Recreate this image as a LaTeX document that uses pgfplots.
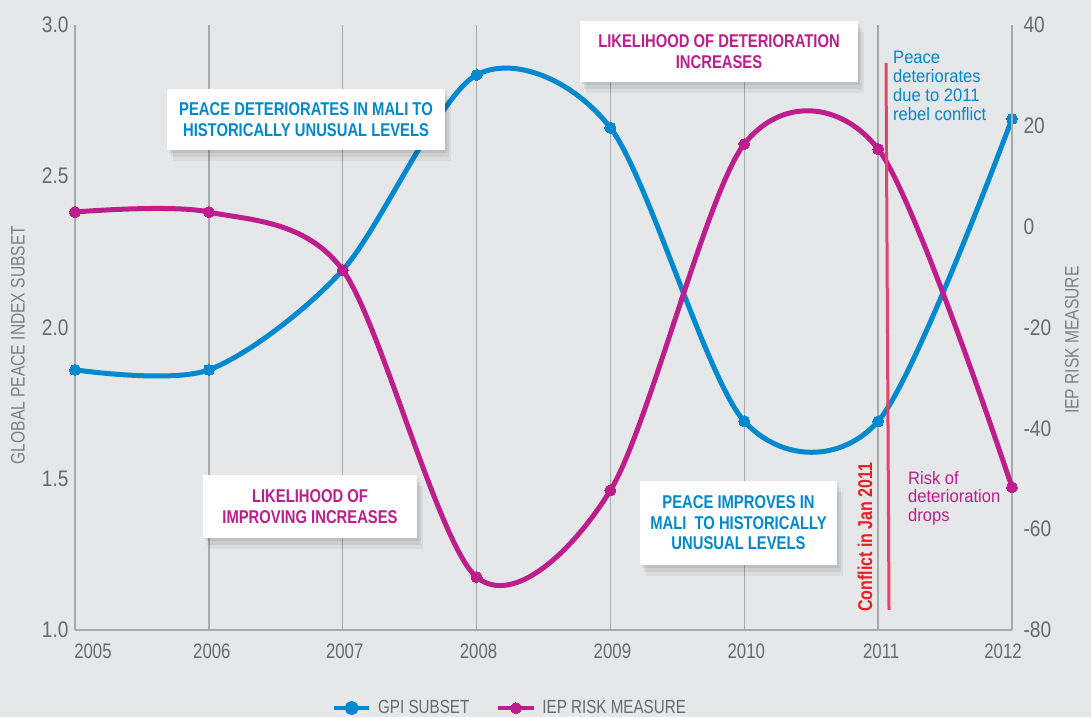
\documentclass[border=0pt]{standalone}
\usepackage{pgfplots}
\pgfplotsset{compat=1.18}
\usepackage{fontspec}
\setmainfont{Liberation Sans}[FakeStretch=0.8]
\newfontfamily\narrowfont{Liberation Sans}[FakeStretch=0.92]
\newfontfamily\tickfont{Liberation Sans}[FakeStretch=0.85]
\usetikzlibrary{shadows}
\definecolor{bgc}{RGB}{230,231,232}
\definecolor{gpiblue}{RGB}{0,137,207}
\definecolor{iepmag}{RGB}{190,30,140}
\definecolor{tickc}{RGB}{105,106,109}
\definecolor{labc}{RGB}{125,127,130}
\definecolor{gridc}{RGB}{167,169,172}
\definecolor{redtxt}{RGB}{237,28,36}
\definecolor{redline}{RGB}{226,68,106}
\tikzset{
  softshadow/.style={
    drop shadow={shadow xshift=2pt, shadow yshift=-3pt, opacity=0.07, fill=black},
    drop shadow={shadow xshift=4pt, shadow yshift=-7pt, opacity=0.06, fill=black},
    drop shadow={shadow xshift=6pt, shadow yshift=-11pt, opacity=0.05, fill=black}},
  box/.style={fill=white, inner sep=0pt, align=center, font=\bfseries\fontsize{18.5}{20.5}\selectfont, softshadow}
}
\pgfplotsset{
  common/.style={
    at={(75pt,87pt)}, anchor=south west, scale only axis,
    width=937pt, height=605pt, clip=false,
    xmin=2005, xmax=2012,
    major tick length=0pt,
    axis line style={draw=gridc, line width=1.3pt},
    /pgf/number format/assume math mode=true,
    /pgf/number format/1000 sep={},
    tick label style={text=tickc},
  },
  legend image code/.code={\draw[#1, mark repeat=2, mark phase=2, line width=4pt] plot coordinates {(0pt,0pt) (17.5pt,0pt) (35pt,0pt)};},
}
\begin{document}
\begin{tikzpicture}[x=1pt,y=1pt]
\fill[bgc] (0,0) rectangle (1091,717);
\useasboundingbox (0,0) rectangle (1091,717);
\begin{axis}[common,
  ymin=1, ymax=3,
  axis x line*=bottom, axis y line*=left,
  xtick={2005,2006,2007,2008,2009,2010,2011,2012},
  xticklabels={\hspace*{36pt}2005,\hspace*{6pt}2006,\hspace*{4pt}2007,\hspace*{4pt}2008,\hspace*{4pt}2009,\hspace*{4pt}2010,\hspace*{6pt}2011,2012\hspace*{18pt}},
  ytick={1,1.5,2,2.5,3},
  yticklabel style={/pgf/number format/fixed, /pgf/number format/fixed zerofill, /pgf/number format/precision=1, font=\tickfont\fontsize{22.5}{22.5}\selectfont, xshift=-3pt},
  xticklabel style={font=\fontsize{21}{21}\selectfont, yshift=-10pt},
  xmajorgrids, grid style={draw=gridc, line width=1.3pt},
  ylabel={GLOBAL PEACE INDEX SUBSET},
  every axis y label/.style={at={(axis description cs:-0.061,0.471)}, rotate=90, anchor=center, font=\fontsize{19.5}{19.5}\selectfont, text=labc},
]
\addplot[gpiblue, line width=5pt, smooth, tension=0.5, mark=*, mark size=5.5pt, mark options={solid, fill=gpiblue, draw=gpiblue, line width=0pt}]
 coordinates {(2005,1.86) (2006,1.86) (2007,2.19) (2008,2.835) (2009,2.66) (2010,1.69) (2011,1.69) (2012,2.69)};
\end{axis}
\begin{axis}[common,
  ymin=-80, ymax=40,
  axis y line*=right, axis x line=none,
  ytick={-80,-60,-40,-20,0,20,40},
  yticklabel style={font=\tickfont\fontsize{22.5}{22.5}\selectfont, xshift=8pt},
  ylabel={IEP RISK MEASURE},
  every axis y label/.style={at={(axis description cs:1.064,0.479)}, rotate=90, anchor=center, font=\fontsize{19.5}{19.5}\selectfont, text=labc},
  legend style={at={(axis description cs:0.467,-0.129)}, anchor=center, draw=none, fill=none, legend columns=2, font=\fontsize{19}{19}\selectfont, text=tickc, /tikz/every even column/.append style={column sep=20pt}, nodes={inner xsep=7pt}},
]
\addlegendimage{gpiblue, mark=*, mark size=5pt, mark options={solid, fill=gpiblue, draw=gpiblue}}
\addlegendentry{GPI SUBSET}
\addplot[iepmag, line width=5pt, smooth, tension=0.5, mark=*, mark size=5.5pt, mark options={solid, fill=iepmag, draw=iepmag, line width=0pt}]
 coordinates {(2005,2.9) (2006,2.9) (2007,-8.6) (2008,-69.5) (2009,-52.3) (2010,16.4) (2011,15.4) (2012,-51.7)};
\addlegendentry{IEP RISK MEASURE}
\end{axis}
% annotations
\draw[redline, line width=3pt] (886,654) -- (889,107);
\node[rotate=90, text=redtxt, font=\bfseries\fontsize{20}{20}\selectfont, inner sep=0pt] at (865,180) {Conflict in Jan 2011};
\node[anchor=north west, align=left, inner sep=0pt, text=gpiblue, font=\narrowfont\fontsize{18}{19}\selectfont] at (893,666) {Peace\\deteriorates\\due to 2011\\rebel conflict};
\node[anchor=north west, align=left, inner sep=0pt, text=iepmag, font=\narrowfont\fontsize{18}{18.5}\selectfont] at (908,246) {Risk of\\deterioration\\drops};
\node[box, text=gpiblue, minimum width=278pt, minimum height=61pt] at (306,597.5) {PEACE DETERIORATES IN MALI TO\\HISTORICALLY UNUSUAL LEVELS};
\node[box, text=iepmag, minimum width=278pt, minimum height=61pt] at (719,665.5) {LIKELIHOOD OF DETERIORATION\\INCREASES};
\node[box, text=iepmag, minimum width=214pt, minimum height=63pt] at (310,210.5) {LIKELIHOOD OF\\IMPROVING INCREASES};
\node[box, text=gpiblue, minimum width=197pt, minimum height=84pt] at (738.5,194) {PEACE IMPROVES IN\\MALI\ \ TO HISTORICALLY\\UNUSUAL LEVELS};
\end{tikzpicture}
\end{document}
